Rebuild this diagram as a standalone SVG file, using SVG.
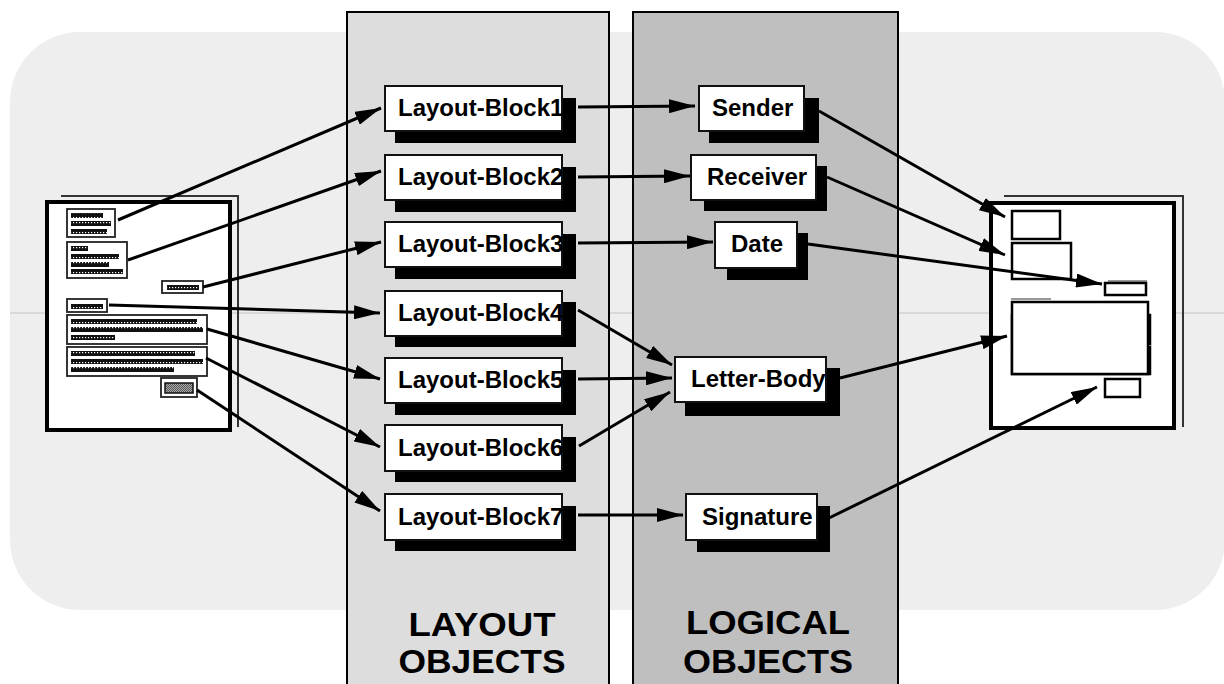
<svg xmlns="http://www.w3.org/2000/svg" width="1224" height="684" viewBox="0 0 1224 684">
<style>
.bg{fill:#eeeeee}
.colL{fill:#dddddd;stroke:#000;stroke-width:2}
.colR{fill:#bfbfbf;stroke:#000;stroke-width:2}
.shadow{fill:#000}
.box{fill:#fff;stroke:#111;stroke-width:2}
.lbl{font-family:"Liberation Sans",Arial,sans-serif;font-weight:bold;font-size:24px;fill:#000}
.big{font-family:"Liberation Sans",Arial,sans-serif;font-weight:bold;font-size:34px;fill:#000;text-anchor:middle}
.page{fill:#fff;stroke:#000;stroke-width:4}
.back{fill:none;stroke:#333;stroke-width:2}
.blk{fill:#fff;stroke:#222;stroke-width:1.8}
.bar{fill:url(#dots)}
.rblk{fill:#fff;stroke:#000;stroke-width:2.5}
.ghost{fill:none;stroke:#777;stroke-width:1.5}
.conn{fill:none;stroke:#000;stroke-width:3;marker-end:url(#arr)}
</style>
<defs>
<marker id="arr" viewBox="0 0 26 14" refX="26" refY="7" markerWidth="26" markerHeight="14" markerUnits="userSpaceOnUse" orient="auto">
<path d="M0,0 L26,7 L0,14 z" fill="#000"/>
</marker>
<pattern id="dots" patternUnits="userSpaceOnUse" width="3" height="5" x="0" y="0">
<rect width="3" height="5" fill="#111"/>
<rect x="1" y="2" width="1.2" height="1.2" fill="#fff"/>
</pattern>
<pattern id="chk" patternUnits="userSpaceOnUse" width="2" height="2">
<rect width="2" height="2" fill="#aaa"/>
<rect width="1" height="1" fill="#555"/>
<rect x="1" y="1" width="1" height="1" fill="#555"/>
</pattern>
</defs>

<rect class="bg" x="10" y="32" width="1215" height="578" rx="70" ry="70"/>
<line x1="10" y1="313" x2="1224" y2="313" stroke="#aaa" stroke-width="0.6"/>

<g id="layout-column">
<rect class="colL" x="347" y="12" width="262" height="690"/>
<text class="big" x="482" y="636" textLength="147" lengthAdjust="spacingAndGlyphs">LAYOUT</text>
<text class="big" x="482" y="673" textLength="167" lengthAdjust="spacingAndGlyphs">OBJECTS</text>
</g>
<g id="logical-column">
<rect class="colR" x="633" y="12" width="265" height="690"/>
<text class="big" x="768" y="634" textLength="164" lengthAdjust="spacingAndGlyphs">LOGICAL</text>
<text class="big" x="768" y="673" textLength="170" lengthAdjust="spacingAndGlyphs">OBJECTS</text>
</g>

<g id="source-document">
<path class="back" d="M61,196 H238 V427"/>
<rect class="page" x="47" y="202" width="183" height="228"/>
<rect class="blk" x="67" y="209" width="48" height="28"/>
<rect class="bar" x="71" y="213" width="32" height="5"/>
<rect class="bar" x="71" y="221" width="40" height="5"/>
<rect class="bar" x="71" y="229" width="36" height="5"/>
<rect class="blk" x="67" y="242" width="60" height="36"/>
<rect class="bar" x="71" y="246" width="17" height="5"/>
<rect class="bar" x="71" y="254" width="48" height="5"/>
<rect class="bar" x="71" y="262" width="38" height="5"/>
<rect class="bar" x="71" y="269" width="52" height="5"/>
<rect class="blk" x="162" y="281" width="41" height="12"/>
<rect class="bar" x="167" y="285" width="32" height="5"/>
<rect class="blk" x="67" y="299" width="40" height="13"/>
<rect class="bar" x="71" y="304" width="32" height="5"/>
<rect class="blk" x="67" y="315" width="140" height="29"/>
<rect class="bar" x="71" y="319" width="126" height="5"/>
<rect class="bar" x="71" y="327" width="132" height="5"/>
<rect class="bar" x="71" y="335" width="44" height="5"/>
<rect class="blk" x="67" y="347" width="140" height="29"/>
<rect class="bar" x="71" y="351" width="124" height="5"/>
<rect class="bar" x="71" y="359" width="132" height="5"/>
<rect class="bar" x="71" y="367" width="103" height="5"/>
<rect class="blk" x="161" y="378" width="36" height="19"/>
<rect x="165" y="383" width="28" height="10" fill="url(#chk)" stroke="#111" stroke-width="1.5"/>
</g>

<g id="target-document">
<path class="back" d="M1004,196 H1183 V427"/>
<rect class="page" x="991" y="203" width="183" height="225"/>
<rect class="rblk" x="1012" y="211" width="48" height="28"/>
<rect class="rblk" x="1012" y="243" width="59" height="36"/>
<line class="ghost" x1="1108" y1="281" x2="1147" y2="281"/>
<rect class="rblk" x="1105" y="283" width="41" height="12"/>
<line class="ghost" x1="1011" y1="299" x2="1051" y2="299"/>
<rect class="rblk" x="1012" y="315" width="138" height="29"/>
<rect class="rblk" x="1012" y="347" width="138" height="27"/>
<rect class="rblk" x="1012" y="302" width="136" height="72"/>
<rect class="rblk" x="1105" y="379" width="35" height="18"/>
</g>

<g id="connectors">
<path class="conn" d="M118,220 L381,108"/>
<path class="conn" d="M128,260 L381,171"/>
<path class="conn" d="M203,287 L381,242"/>
<path class="conn" d="M109,305 L380,313"/>
<path class="conn" d="M207,329 L380,379"/>
<path class="conn" d="M206,358 L380,447"/>
<path class="conn" d="M197,390 L380,511"/>
<path class="conn" d="M578,107 L695,106"/>
<path class="conn" d="M578,177 L690,176"/>
<path class="conn" d="M578,243 L713,242"/>
<path class="conn" d="M578,310 L672,365"/>
<path class="conn" d="M578,379 L672,378"/>
<path class="conn" d="M579,446 L670,392"/>
<path class="conn" d="M578,515 L683,515"/>
<path class="conn" d="M819,111 L1005,217"/>
<path class="conn" d="M827,177 L1005,255"/>
<path class="conn" d="M808,244 L1102,284"/>
<path class="conn" d="M840,378 L1007,336"/>
<path class="conn" d="M829,518 L1097,387"/>
</g>

<g id="layout-block1"><rect class="shadow" x="395" y="98" width="181" height="45"/><rect class="box" x="385" y="86" width="177" height="45"/><text class="lbl" x="398" y="116">Layout-Block1</text></g>
<g id="layout-block2"><rect class="shadow" x="395" y="167" width="181" height="45"/><rect class="box" x="385" y="155" width="177" height="45"/><text class="lbl" x="398" y="185">Layout-Block2</text></g>
<g id="layout-block3"><rect class="shadow" x="395" y="234" width="181" height="45"/><rect class="box" x="385" y="222" width="177" height="45"/><text class="lbl" x="398" y="252">Layout-Block3</text></g>
<g id="layout-block4"><rect class="shadow" x="395" y="302" width="181" height="45"/><rect class="box" x="385" y="291" width="177" height="45"/><text class="lbl" x="398" y="321">Layout-Block4</text></g>
<g id="layout-block5"><rect class="shadow" x="395" y="370" width="181" height="45"/><rect class="box" x="385" y="358" width="177" height="45"/><text class="lbl" x="398" y="388">Layout-Block5</text></g>
<g id="layout-block6"><rect class="shadow" x="395" y="437" width="181" height="45"/><rect class="box" x="385" y="425" width="177" height="46"/><text class="lbl" x="398" y="456">Layout-Block6</text></g>
<g id="layout-block7"><rect class="shadow" x="395" y="506" width="181" height="45"/><rect class="box" x="385" y="494" width="177" height="46"/><text class="lbl" x="398" y="525">Layout-Block7</text></g>

<g id="sender"><rect class="shadow" x="709" y="98" width="110" height="45"/><rect class="box" x="699" y="86" width="105" height="45"/><text class="lbl" x="712" y="116">Sender</text></g>
<g id="receiver"><rect class="shadow" x="704" y="166" width="123" height="45"/><rect class="box" x="691" y="155" width="125" height="45"/><text class="lbl" x="707" y="185">Receiver</text></g>
<g id="date"><rect class="shadow" x="727" y="233" width="81" height="47"/><rect class="box" x="715" y="222" width="82" height="46"/><text class="lbl" x="731" y="252">Date</text></g>
<g id="letter-body"><rect class="shadow" x="685" y="368" width="155" height="48"/><rect class="box" x="675" y="357" width="151" height="45"/><text class="lbl" x="691" y="387">Letter-Body</text></g>
<g id="signature"><rect class="shadow" x="697" y="506" width="133" height="46"/><rect class="box" x="686" y="494" width="131" height="46"/><text class="lbl" x="702" y="525">Signature</text></g>
</svg>
